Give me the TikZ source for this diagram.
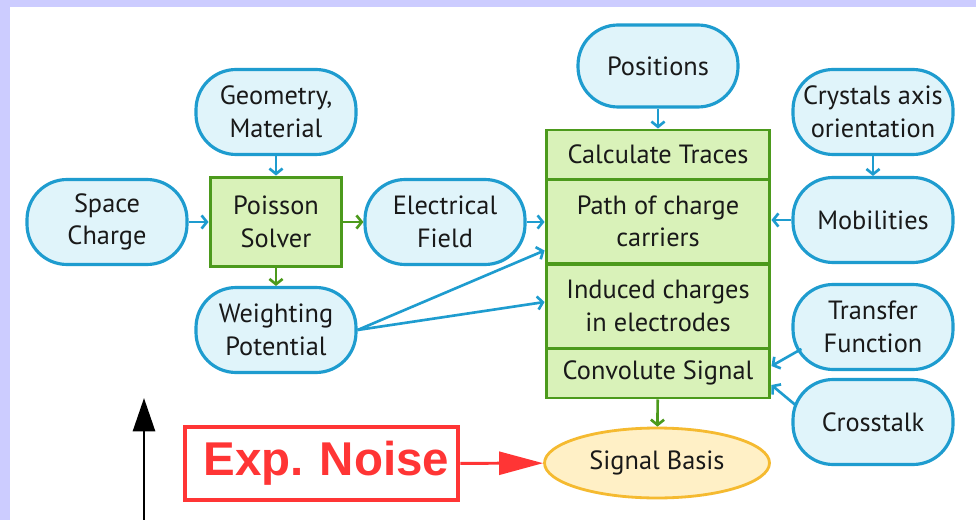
\documentclass[tikz,border=0pt]{standalone}
\usepackage{fontspec}
\setmainfont{PT Sans}
\newfontfamily\noisefont{Liberation Sans}
\usetikzlibrary{positioning, arrows.meta, shapes.geometric}

\definecolor{framelav}{HTML}{CCCCFF}
\definecolor{pillline}{HTML}{1E9CCF}
\definecolor{pillfill}{HTML}{E0F4FA}
\definecolor{boxline}{HTML}{4C9A1C}
\definecolor{boxfill}{HTML}{D9F2B9}
\definecolor{ovalline}{HTML}{F5BA30}
\definecolor{ovalfill}{HTML}{FFF0C6}
\definecolor{noisered}{HTML}{FF3535}

\begin{document}
\begin{tikzpicture}[
    x=0.02cm, y=-0.02cm,
    every node/.style={font=\fontsize{15}{18.5}\selectfont, text=black!90},
    pill/.style={rectangle, draw=pillline, fill=pillfill, line width=1.8pt, rounded corners=0.8cm, minimum width=3.2cm, minimum height=1.7cm, align=center},
    stage/.style={rectangle, draw=boxline, fill=boxfill, line width=1.7pt, minimum width=4.48cm, align=center, inner sep=2pt},
    barr/.style={-{Straight Barb[length=3pt, width=7.5pt]}, draw=pillline, line width=1.5pt},
    garr/.style={-{Straight Barb[length=3pt, width=7.5pt]}, draw=boxline, line width=1.5pt},
    rarr/.style={-{Triangle[length=25pt, width=13pt]}, draw=noisered, line width=1.7pt},
    karr/.style={-{Triangle[length=19pt, width=12.5pt]}, draw=black, line width=1.7pt}
]

% frame
\fill[framelav] (0,0) rectangle (976,520);
\fill[white] (10,7) rectangle (976,520);
\useasboundingbox (0,0) rectangle (976,520);

% left part: field calculation
\node[pill] (geo) at (276,112) {Geometry,\\Material};
\node[pill] (space) at (107,222) {Space\\Charge};
\node[rectangle, draw=boxline, fill=boxfill, line width=1.7pt, minimum width=2.64cm, minimum height=1.8cm, align=center] (poisson) at (276,222) {Poisson\\Solver};
\node[pill] (efield) at (445,222) {Electrical\\Field};
\node[pill] (weight) at (276,330) {Weighting\\Potential};

% middle stack
\node[pill, minimum height=1.64cm] (pos) at (658,66) {Positions};
\node[stage, minimum height=0.98cm] (traces) at (658,154.5) {Calculate Traces};
\node[stage, minimum height=1.7cm] (path) at (658,221.5) {Path of charge\\carriers};
\node[stage, minimum height=1.68cm] (induced) at (658,306) {Induced charges\\in electrodes};
\node[stage, minimum height=1.0cm] (convolve) at (658,373) {Convolute Signal};
\node[ellipse, draw=ovalline, fill=ovalfill, line width=1.6pt, minimum width=4.5cm, minimum height=1.4cm] (signal) at (657,463) {Signal Basis};

% right part
\node[pill] (crystal) at (873,112) {Crystals axis\\orientation};
\node[pill] (mob) at (873,220) {Mobilities};
\node[pill] (transfer) at (873,327) {Transfer\\Function};
\node[pill] (cross) at (873,422) {Crosstalk};

% noise
\node[rectangle, draw=noisered, line width=2.8pt, minimum width=5.46cm, minimum height=1.46cm, font=\noisefont\bfseries\fontsize{27}{30}\selectfont, text=noisered, text width=5.1cm, align=right, inner sep=0pt] (noise) at (321.5,463.5) {Exp.\ Noise};
\coordinate (axisbase) at (144,522);
\coordinate (axistop) at (144,398);

\draw[barr] (geo) -- (poisson);
\draw[barr] (space) -- (poisson);
\draw[garr] (poisson) -- (efield);
\draw[garr] (poisson) -- (weight);
\draw[barr] (efield.east) -- (path.west |- efield.east);
\draw[barr] (weight.east) -- ([yshift=0.3cm]path.south west);
\draw[barr] (weight.east) -- ([yshift=0.08cm]induced.west);
\draw[barr] (pos) -- (traces);
\draw[barr] (crystal) -- (mob);
\draw[barr] (mob.west) -- (path.east |- mob.west);
\draw[barr] ([xshift=0.2cm, yshift=-0.44cm]transfer.west) -- ([yshift=0.14cm]convolve.east);
\draw[barr] ([xshift=0.08cm, yshift=0.34cm]cross.west) -- ([yshift=-0.24cm]convolve.east);
\draw[garr] (convolve) -- (signal);
\draw[rarr] (noise) -- (signal);
\draw[karr] (axisbase) -- (axistop);

\end{tikzpicture}
\end{document}
